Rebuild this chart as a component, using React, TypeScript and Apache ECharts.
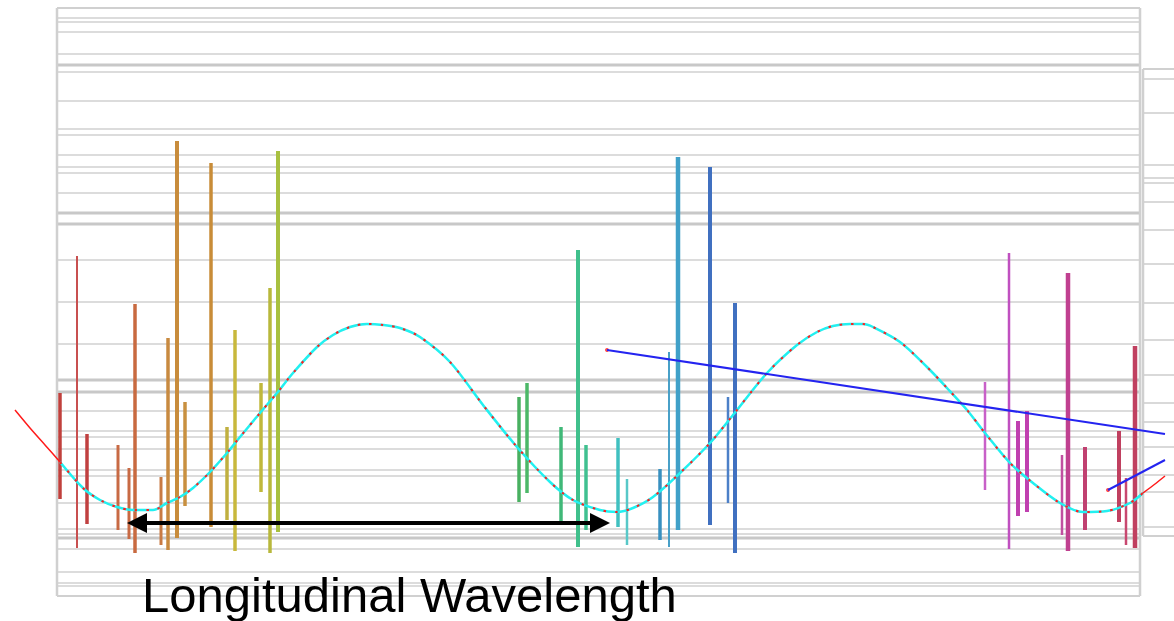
import React, { useEffect, useRef } from "react";
import * as echarts from "echarts";

// ---- Canvas extents (data units = 1 per pixel of the reference) ----
const X_MAX = 1174;
const Y_MAX = 621;

// ---- Main panel ----
const panelLeft = 57;
const panelRight = 1140;
const panelTop = 8;
const panelBottom = 596;
const panelRules = [18, 22, 32, 54, 72, 101, 129, 135, 155, 167, 173, 193, 260, 302, 344, 411, 431, 437, 449, 470, 476, 503, 529, 534, 549, 572, 583, 586];
const panelRulesHeavy = [65, 213, 224, 380, 392, 538];

// ---- Side panel (right edge) ----
const sideLeft = 1143;
const sideRight = 1174;
const sideTop = 69;
const sideBottom = 536;
const sideRules = [79, 113, 165, 178, 183, 202, 230, 264, 303, 340, 375, 403, 422, 447, 475, 492, 527];

// ---- Vertical bars ----
const barX = [60, 77, 87, 118, 129, 135, 161, 168, 177, 185, 211, 227, 235, 261, 270, 278, 519, 527, 561, 578, 586, 618, 627, 660, 669, 678, 710, 728, 735, 985, 1009, 1018, 1027, 1062, 1068, 1085, 1119, 1126, 1135];
const barTop = [393, 256, 434, 445, 468, 304, 477, 338, 141, 402, 163, 427, 330, 383, 288, 151, 397, 383, 427, 250, 445, 438, 479, 469, 352, 157, 167, 397, 303, 382, 253, 421, 411, 455, 273, 447, 431, 478, 346];
const barBottom = [499, 548, 524, 530, 539, 553, 545, 550, 538, 506, 527, 520, 551, 492, 553, 532, 502, 493, 522, 547, 530, 527, 545, 540, 547, 530, 525, 503, 553, 490, 549, 516, 512, 535, 551, 530, 522, 545, 548];
const barWidths = [3.5, 2, 3.5, 3, 3, 3.5, 3, 3.5, 4, 3.5, 3.5, 3.5, 3.5, 3.5, 3.5, 4, 3.5, 3.5, 3.5, 4, 3.5, 3.5, 2.5, 3.5, 2, 4.5, 4, 2.5, 4, 2.5, 2.5, 4, 4, 2.5, 4.5, 4, 4, 2.5, 4.5];
const barColors = [
  "#c0403c", "#c85050", "#c04040", "#c86a44", "#c86a44", "#c86a40", "#c87a44", "#c88a40", "#c88c3c", "#c89040", "#c88c38", "#c0b040", "#c8b83c", "#c0b83c", "#b8b83c", "#a8c040",
  "#48b060", "#4cb868", "#40b878", "#40c08c", "#40c090", "#40c0c0", "#58c8c8", "#3890c0", "#48a0c8", "#40a0c8", "#4070c0", "#4c80c8", "#4070c0",
  "#c860c8", "#c050c0", "#c040b0", "#c040b0", "#c050a0", "#c04090", "#c04070", "#c04060", "#c84870", "#c04060",
];

// ---- Wave ----
const waveX = [60, 83, 100, 117, 133, 153, 167, 180, 193, 210, 227, 240, 260, 277, 293, 317, 333, 350, 367, 383, 400, 420, 450, 483, 517, 550, 573, 600, 617, 633, 653, 680, 710, 733, 767, 797, 817, 833, 850, 863, 873, 900, 927, 947, 967, 985, 1010, 1033, 1060, 1083, 1107, 1130, 1143];
const waveY = [462, 488, 500, 507, 510, 510, 503, 497, 488, 472, 453, 437, 413, 393, 373, 347, 335, 327, 324, 325, 328, 337, 362, 405, 447, 482, 500, 510, 512, 508, 497, 473, 443, 415, 373, 345, 332, 326, 324, 324, 327, 342, 367, 388, 410, 433, 463, 483, 503, 512, 511, 503, 493];
const redLeftX = [15, 30, 45, 60];
const redLeftY = [410, 428, 445, 462];
const redRightX = [1143, 1155, 1165];
const redRightY = [493, 484, 476];

// ---- Blue lines ----
const blueAX = [607, 1165];
const blueAY = [350, 434];
const blueBX = [1108, 1165];
const blueBY = [490, 460];

// ---- Double arrow & caption ----
const arrowFrom = [137, 523];
const arrowTo = [600, 523];
const caption = "Longitudinal Wavelength";

const zip = (xs: number[], ys: number[]) => xs.map((x, i) => [x, ys[i]]);

function buildOption() {
  const rules: any[] = [];
  const addRule = (x1: number, y1: number, x2: number, y2: number, w: number, c: string) =>
    rules.push({ value: [x1, y1, x2, y2, w], itemStyle: { color: c } });
  panelRules.forEach((y) => addRule(panelLeft, y, panelRight, y, 1.6, "#d0d0d0"));
  panelRulesHeavy.forEach((y) => addRule(panelLeft, y, panelRight, y, 3, "#c8c8c8"));
  addRule(panelLeft, panelTop, panelRight, panelTop, 2, "#d0d0d0");
  addRule(panelLeft, panelBottom, panelRight, panelBottom, 2, "#d0d0d0");
  addRule(panelLeft, panelTop, panelLeft, panelBottom, 2.5, "#d0d0d0");
  addRule(panelRight, panelTop, panelRight, panelBottom, 2.5, "#d0d0d0");
  sideRules.forEach((y) => addRule(sideLeft, y, sideRight, y, 1.6, "#d0d0d0"));
  addRule(sideLeft, sideTop, sideRight, sideTop, 2, "#d0d0d0");
  addRule(sideLeft, sideBottom, sideRight, sideBottom, 2, "#d0d0d0");
  addRule(sideLeft, sideTop, sideLeft, sideBottom, 2.5, "#d0d0d0");

  const bars = barX.map((x, i) => ({
    value: [x, barTop[i], barBottom[i], barWidths[i]],
    itemStyle: { color: barColors[i] },
  }));

  return {
    animation: false,
    backgroundColor: "#ffffff",
    grid: { left: 0, right: 0, top: 0, bottom: 0 },
    xAxis: { type: "value", min: 0, max: X_MAX, show: false },
    yAxis: { type: "value", min: 0, max: Y_MAX, inverse: true, show: false },
    graphic: [
      {
        type: "text",
        style: {
          text: caption,
          x: 142,
          y: 595,
          verticalAlign: "middle",
          align: "left",
          font: '49px "Liberation Sans", Arial, sans-serif',
          fill: "#000000",
        },
        z: 100,
      },
    ],
    series: [
      {
        type: "custom",
        name: "rules",
        clip: false,
        silent: true,
        data: rules,
        renderItem: (_p: any, api: any) => {
          const a = api.coord([api.value(0), api.value(1)]);
          const b = api.coord([api.value(2), api.value(3)]);
          return {
            type: "line",
            shape: { x1: a[0], y1: a[1], x2: b[0], y2: b[1] },
            style: { stroke: api.visual("color"), lineWidth: api.value(4) },
          };
        },
      },
      {
        type: "custom",
        name: "bars",
        clip: false,
        silent: true,
        data: bars,
        renderItem: (_p: any, api: any) => {
          const top = api.coord([api.value(0), api.value(1)]);
          const bot = api.coord([api.value(0), api.value(2)]);
          const w = api.value(3);
          return {
            type: "rect",
            shape: { x: top[0] - w / 2, y: top[1], width: w, height: bot[1] - top[1] },
            style: { fill: api.visual("color") },
          };
        },
      },
      {
        type: "line",
        name: "red-outside-left",
        data: zip(redLeftX, redLeftY),
        showSymbol: false,
        smooth: 0.2,
        lineStyle: { color: "#ff1a1a", width: 1.5 },
        silent: true,
      },
      {
        type: "line",
        name: "red-outside-right",
        data: zip(redRightX, redRightY),
        showSymbol: false,
        smooth: 0.2,
        lineStyle: { color: "#ff1a1a", width: 1.5 },
        silent: true,
      },
      {
        type: "line",
        name: "wave",
        data: zip(waveX, waveY),
        showSymbol: false,
        smooth: 0.3,
        lineStyle: { color: "#22f0f0", width: 2.5 },
        silent: true,
      },
      {
        type: "line",
        name: "wave-red",
        data: zip(waveX, waveY),
        showSymbol: false,
        smooth: 0.3,
        lineStyle: { color: "#ff2020", width: 2, type: [2.5, 9] },
        silent: true,
      },
      {
        type: "line",
        name: "blueA",
        data: zip(blueAX, blueAY),
        showSymbol: false,
        lineStyle: { color: "#2424f0", width: 2 },
        silent: true,
      },
      {
        type: "line",
        name: "blueB",
        data: zip(blueBX, blueBY),
        showSymbol: false,
        lineStyle: { color: "#2424f0", width: 2 },
        silent: true,
      },
      {
        type: "scatter",
        name: "blue-starts",
        data: [
          [blueAX[0], blueAY[0]],
          [blueBX[0], blueBY[0]],
        ],
        symbolSize: 4,
        itemStyle: { color: "#ff2020" },
        silent: true,
      },
      {
        type: "lines",
        name: "arrow",
        coordinateSystem: "cartesian2d",
        data: [{ coords: [arrowFrom, arrowTo] }],
        symbol: ["triangle", "triangle"],
        symbolSize: 20,
        lineStyle: { color: "#000000", width: 4, opacity: 1 },
        silent: true,
        z: 10,
      },
    ],
  };
}

export default function App() {
  const ref = useRef<HTMLDivElement>(null);
  useEffect(() => {
    if (!ref.current) return;
    const chart = echarts.init(ref.current, undefined, { renderer: "svg" });
    chart.setOption(buildOption() as any);
    return () => chart.dispose();
  }, []);
  return (
    <div
      ref={ref}
      style={{ position: "fixed", left: 0, top: 0, width: X_MAX, height: Y_MAX, background: "#fff" }}
    />
  );
}
